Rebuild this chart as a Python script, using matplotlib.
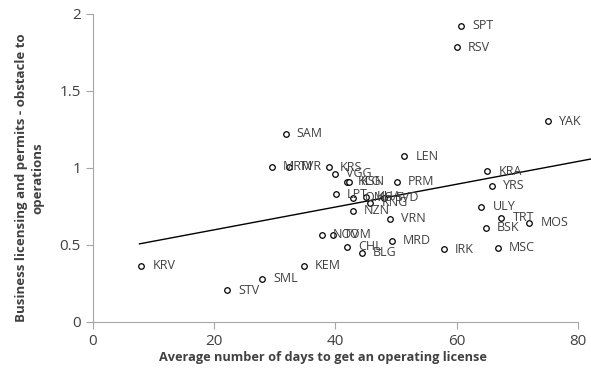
import numpy as np
import matplotlib.pyplot as plt

plt.rcParams['font.family'] = ['Open Sans', 'DejaVu Sans']

# average days to get an operating license / obstacle score
regions = ['SPT', 'RSV', 'YAK', 'LEN', 'KRA', 'YRS', 'SAM', 'MRM', 'TVR', 'KRS',
           'VGG', 'KLG', 'KSN', 'PRM', 'LPT', 'OMS', 'KHA', 'KNG', 'SVD', 'NZN',
           'VRN', 'NOV', 'TOM', 'CHL', 'BLG', 'MRD', 'IRK', 'ULY', 'TRT', 'MOS',
           'BSK', 'MSC', 'KRV', 'STV', 'SML', 'KEM']
days = [60.7, 60.0, 75.1, 51.4, 65.1, 65.9, 31.8, 29.5, 32.4, 38.9,
        39.9, 41.9, 42.3, 50.1, 40.1, 42.9, 45.0, 45.8, 48.0, 42.9,
        49.0, 37.8, 39.6, 41.9, 44.4, 49.3, 57.9, 64.1, 67.4, 72.0,
        64.8, 66.8, 8.0, 22.1, 27.9, 34.8]
obstacle = [1.925, 1.784, 1.302, 1.074, 0.977, 0.883, 1.222, 1.007, 1.007, 1.004,
            0.962, 0.91, 0.91, 0.91, 0.828, 0.805, 0.812, 0.773, 0.805, 0.72,
            0.669, 0.564, 0.564, 0.486, 0.447, 0.525, 0.47, 0.747, 0.675, 0.643,
            0.61, 0.48, 0.365, 0.206, 0.278, 0.365]

# trend line
trend_x = [7.7, 82.1]
trend_y = [0.506, 1.057]

fig = plt.figure(figsize=(5.91, 3.74), dpi=100)
ax = fig.add_axes([0.157, 0.1398, 0.8207, 0.8228])

ax.scatter(days, obstacle, s=16, facecolors='white', edgecolors='black',
           linewidths=0.9, zorder=3)
for name, x, y in zip(regions, days, obstacle):
    ax.annotate(name, (x, y), xytext=(8, 0), textcoords='offset points',
                va='center', ha='left', fontsize=9, color='#404040')

ax.plot(trend_x, trend_y, color='black', lw=1.0, clip_on=False, zorder=2)

ax.set_xlim(0, 80)
ax.set_ylim(0, 2)
ax.set_xticks([0, 20, 40, 60, 80])
ax.set_yticks([0, 0.5, 1, 1.5, 2])
ax.set_yticklabels(['0', '0.5', '1', '1.5', '2'])
for s in ['top', 'right']:
    ax.spines[s].set_visible(False)
for s in ['left', 'bottom']:
    ax.spines[s].set_color('#a6a6a6')
ax.tick_params(colors='#a6a6a6', labelcolor='#404040', labelsize=11,
               direction='out', length=5)

ax.set_xlabel('Average number of days to get an operating license',
              fontsize=9.2, fontweight='bold', color='#404040')
ax.xaxis.set_label_coords(0.474, -0.095)
ax.set_ylabel('Business licensing and permits - obstacle to\noperations',
              fontsize=9.5, fontweight='bold', color='#404040', linespacing=1.35)
ax.yaxis.set_label_coords(-0.1, 0.467)

fig.savefig('out.png', dpi=100)
